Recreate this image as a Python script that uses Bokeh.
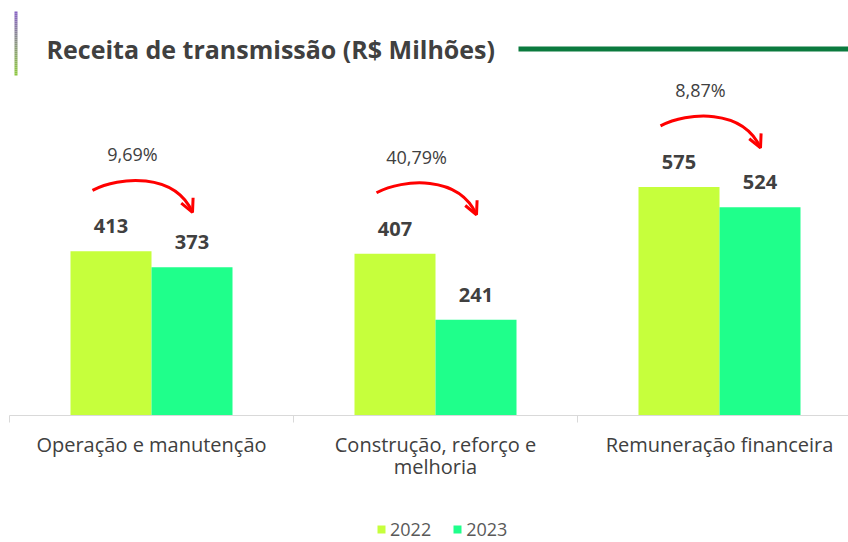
from bokeh.plotting import figure
from bokeh.layouts import column
from bokeh.models import (Range1d, FixedTicker, Legend, LegendItem, Arrow, OpenHead,
                          Label, ColumnDataSource)
from bokeh.core.properties import value
from bokeh.embed import file_html
from bokeh.resources import INLINE

# ---------------- data ----------------
categories = ["Operação e manutenção", "Construção, reforço e\nmelhoria", "Remuneração financeira"]
years = ["2022", "2023"]
values_2022 = [413, 407, 575]
values_2023 = [373, 241, 524]
title_text = "Receita de transmissão (R$ Milhões)"

# ---------------- styles ----------------
LIME = "#C6FF3C"
GREEN = "#1FFF8B"
TEXT = "#404040"
FONT = "Open Sans"

W = 848
H_MAIN = 495
H_LEG = 47
LEFT = 9
FRAME_W = W - LEFT
FRAME_H = 415            # frame bottom = axis line
PX_PER_CAT = 284.0
PX_PER_UNIT = 0.3975

x_end = -0.5 + FRAME_W / PX_PER_CAT
y_end = FRAME_H / PX_PER_UNIT

def px_x(n):   # horizontal pixels -> data units
    return n / PX_PER_CAT

def px_y(n):   # vertical pixels -> data units
    return n / PX_PER_UNIT

def page_x(X):  # canvas pixel -> data x
    return -0.5 + (X - LEFT) / PX_PER_CAT

def page_y(Y):  # canvas pixel -> data y
    return (FRAME_H - Y) / PX_PER_UNIT

p = figure(width=W, height=H_MAIN, output_backend="svg", toolbar_location=None,
           x_range=Range1d(-0.5, x_end), y_range=Range1d(0, y_end),
           y_axis_location=None, min_border_left=LEFT, min_border_right=0,
           min_border_top=0, min_border_bottom=H_MAIN - FRAME_H)
p.outline_line_color = None
p.xgrid.visible = False
p.ygrid.visible = False
p.background_fill_color = "white"
p.border_fill_color = "white"

# ---------------- bars ----------------
idx = list(range(len(categories)))
bw = px_x(81)
src = ColumnDataSource(dict(
    x22=[i - bw / 2 for i in idx], x23=[i + bw / 2 for i in idx],
    v22=values_2022, v23=values_2023,
    t22=[str(v) for v in values_2022], t23=[str(v) for v in values_2023]))

p.vbar(x="x22", top="v22", width=bw, source=src, fill_color=LIME, line_color=None)
p.vbar(x="x23", top="v23", width=bw, source=src, fill_color=GREEN, line_color=None)

for xcol, tcol, vcol in (("x22", "t22", "v22"), ("x23", "t23", "v23")):
    p.text(x=xcol, y=vcol, text=tcol, source=src, text_align="center",
           text_baseline="middle", y_offset=-25, text_font=value(FONT),
           text_font_style="bold", text_font_size="20px", text_color=TEXT)

# ---------------- change arrows ----------------
tops = [max(a, b) for a, b in zip(values_2022, values_2023)]
pcts = [("%.2f" % (abs(b - a) / a * 100)).replace(".", ",") + "%"
        for a, b in zip(values_2022, values_2023)]

x0 = [i - px_x(59) for i in idx]
y0 = [t + px_y(61) for t in tops]
bz = dict(x0=x0, y0=y0,
          cx0=[x + px_x(27) for x in x0], cy0=[y + px_y(14) for y in y0],
          cx1=[x + px_x(82) for x in x0], cy1=[y + px_y(18) for y in y0],
          x1=[x + px_x(100) for x in x0], y1=[y - px_y(22) for y in y0])
p.bezier(source=ColumnDataSource(bz), x0="x0", y0="y0", x1="x1", y1="y1",
         cx0="cx0", cy0="cy0", cx1="cx1", cy1="cy1",
         line_color="#FF0000", line_width=3)
for k in range(len(idx)):
    p.add_layout(Arrow(x_start=bz["cx1"][k], y_start=bz["cy1"][k],
                       x_end=bz["x1"][k], y_end=bz["y1"][k], line_color=None,
                       end=OpenHead(size=13, line_color="#FF0000", line_width=3)))

p.text(x=[x + px_x(40) for x in x0], y=[y + px_y(36) for y in y0], text=pcts,
       text_align="center", text_baseline="middle", text_font=value(FONT),
       text_font_size="18px", text_color=TEXT)

# ---------------- header decoration ----------------
p.add_layout(Label(x=page_x(46), y=page_y(48.7), text=title_text,
                   text_font=FONT, text_font_style="bold", text_font_size="25px",
                   text_color=TEXT, text_baseline="alphabetic"))
p.segment(x0=[page_x(518)], x1=[x_end], y0=[page_y(48.5)], y1=[page_y(48.5)],
          line_color="#0B7A3E", line_width=5)

n = 32
c_top = (0x86, 0x60, 0xC4)
c_bot = (0x8C, 0xC8, 0x3C)
segs_y0, segs_y1, segs_c = [], [], []
for k in range(n):
    f = (k + 0.5) / n
    col = "#%02x%02x%02x" % tuple(int(round(c_top[j] + (c_bot[j] - c_top[j]) * f)) for j in range(3))
    segs_y0.append(page_y(11 + 64 * k / n))
    segs_y1.append(page_y(11 + 64 * (k + 1) / n))
    segs_c.append(col)
p.segment(x0=[page_x(15.5)] * n, x1=[page_x(15.5)] * n, y0=segs_y0, y1=segs_y1,
          line_color=segs_c, line_width=3)

# ---------------- axis ----------------
ax = p.xaxis[0]
ax.ticker = FixedTicker(ticks=idx, minor_ticks=[i - 0.5 for i in idx] + [len(idx) - 0.5])
ax.major_label_overrides = {i: c for i, c in enumerate(categories)}
ax.axis_line_color = "#D9D9D9"
ax.axis_line_width = 1
ax.major_tick_line_color = None
ax.major_tick_out = 0
ax.major_tick_in = 0
ax.minor_tick_line_color = "#D9D9D9"
ax.minor_tick_out = 7
ax.minor_tick_in = 0
ax.major_label_standoff = 8
ax.major_label_text_font = FONT
ax.major_label_text_font_size = "20px"
ax.major_label_text_line_height = 0.82
ax.major_label_text_color = TEXT

# ---------------- legend (own strip below the chart) ----------------
q = figure(width=W, height=H_LEG, output_backend="svg", toolbar_location=None,
           x_range=Range1d(0, 1), y_range=Range1d(0, 1),
           x_axis_location=None, y_axis_location=None,
           min_border_left=0, min_border_right=0, min_border_top=0, min_border_bottom=0)
q.outline_line_color = None
q.xgrid.visible = False
q.ygrid.visible = False
q.background_fill_color = "white"
q.border_fill_color = "white"
# one off-range point each, so that the legend swatches get their colours
key_src = ColumnDataSource(dict(x=[5.0], top=[0.0]))
l22 = q.vbar(x="x", top="top", width=0.1, source=key_src, fill_color=LIME, line_color=None)
l23 = q.vbar(x="x", top="top", width=0.1, source=key_src, fill_color=GREEN, line_color=None)
legend = Legend(items=[LegendItem(label=years[0], renderers=[l22]),
                       LegendItem(label=years[1], renderers=[l23])],
                orientation="horizontal", location=(367, 1),
                border_line_color=None, background_fill_alpha=0,
                glyph_width=10, glyph_height=10, label_standoff=4, spacing=21,
                label_text_font=FONT, label_text_font_size="18px",
                label_text_color="#595959", margin=0, padding=0)
q.add_layout(legend, "center")

layout = column(p, q, spacing=0)
open("out.html", "w").write(file_html(layout, INLINE))
